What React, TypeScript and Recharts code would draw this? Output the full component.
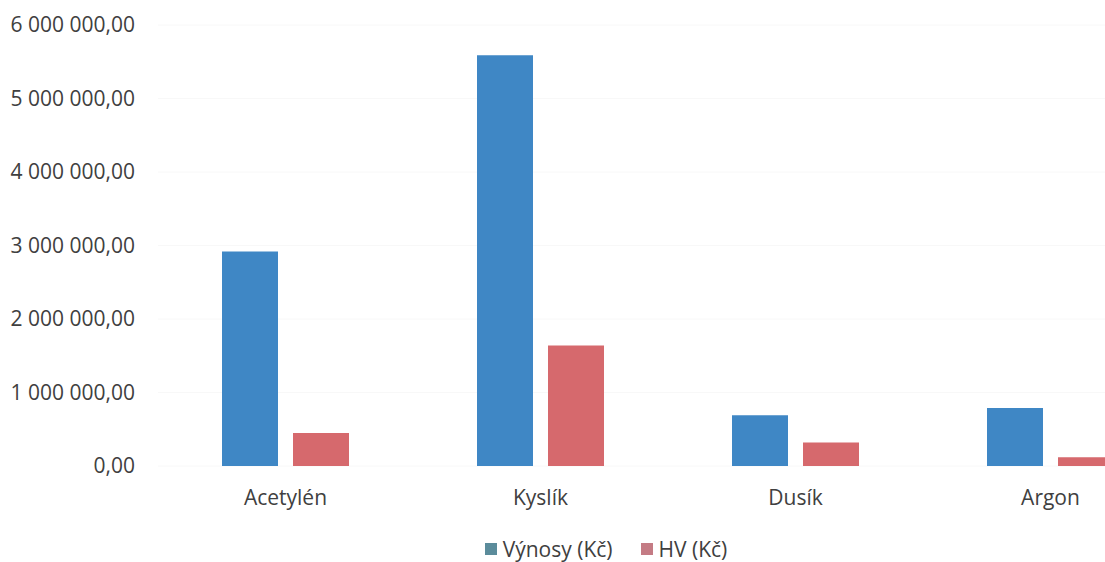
import React from "react"
import { BarChart, Bar, CartesianGrid, Legend, XAxis, YAxis } from "recharts"

const categories = ["Acetylén", "Kyslík", "Dusík", "Argon"]
const vynosy = [2920000, 5590000, 690000, 790000]
const hv = [450000, 1640000, 320000, 120000]
const yTicks = [0, 1000000, 2000000, 3000000, 4000000, 5000000, 6000000]

const data = categories.map((name, i) => ({ name, vynosy: vynosy[i], hv: hv[i] }))

const fmt = (v: number) => {
  const s = Math.round(v).toString().replace(/\B(?=(\d{3})+(?!\d))/g, " ")
  return `${s},00`
}

const legendItems = [
  { label: "Výnosy (Kč)", color: "#5b8c9b" },
  { label: "HV (Kč)", color: "#c47b84" },
]

const renderLegend = () => (
  <div style={{ display: "flex", justifyContent: "center", gap: 28, paddingLeft: 34, fontSize: 21, lineHeight: "26px", color: "#404040" }}>
    {legendItems.map((item) => (
      <div key={item.label} style={{ display: "flex", alignItems: "center", gap: 6 }}>
        <span style={{ width: 12, height: 12, background: item.color, display: "inline-block" }} />
        <span>{item.label}</span>
      </div>
    ))}
  </div>
)

export default function App() {
  return (
    <div style={{ position: "absolute", left: 0, top: 0, width: 1105, height: 562, overflow: "hidden", background: "#fff", fontFamily: "'Open Sans', sans-serif" }}>
      <BarChart width={1212} height={562} data={data} margin={{ top: 25, right: 34, bottom: 0, left: 0 }} barSize={56} barGap={15}>
        <CartesianGrid vertical={false} stroke="#f8f8f8" />
        <XAxis
          dataKey="name"
          axisLine={false}
          tickLine={false}
          tickSize={0}
          tickMargin={24}
          height={70}
          tick={{ fill: "#404040", fontSize: 21 }}
        />
        <YAxis
          ticks={yTicks}
          domain={[0, 6000000]}
          tickFormatter={fmt}
          axisLine={false}
          tickLine={false}
          tickSize={0}
          tickMargin={23}
          width={158}
          tick={{ fill: "#404040", fontSize: 21 }}
        />
        <Legend verticalAlign="bottom" content={renderLegend} wrapperStyle={{ bottom: 0 }} />
        <Bar dataKey="vynosy" name="Výnosy (Kč)" fill="#3f87c5" isAnimationActive={false} />
        <Bar dataKey="hv" name="HV (Kč)" fill="#d6696d" isAnimationActive={false} />
      </BarChart>
    </div>
  )
}
